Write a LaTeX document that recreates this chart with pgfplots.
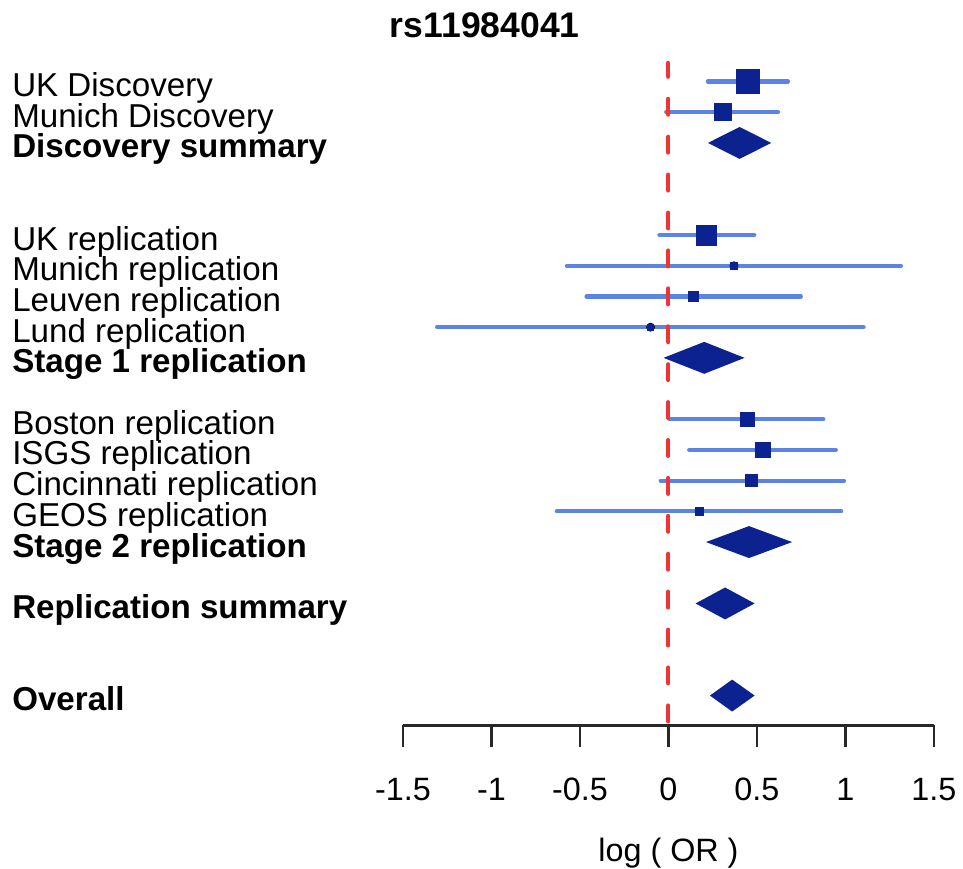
\documentclass[border=0pt]{standalone}
\usepackage{fontspec}
\setmainfont{Liberation Sans}
\usepackage{pgfplots}
\pgfplotsset{compat=1.18}
\usepackage{pgfplotstable}
\usetikzlibrary{calc}

\definecolor{ciblue}{RGB}{92,132,228}
\definecolor{sqblue}{RGB}{12,34,145}
\definecolor{nullred}{RGB}{238,52,52}
\definecolor{axgray}{RGB}{40,40,40}

\tikzset{
  lab/.style={anchor=base west, inner sep=0pt, font=\fontsize{16.6}{19}\selectfont},
  blab/.style={lab, font=\fontsize{16.6}{19}\selectfont\bfseries},
}

% row k, lower CI, estimate, upper CI, half side of the square (pt)
\pgfplotstableread{
k  lo     est    hi     s
0  0.223  0.449  0.675  6
1  -0.013 0.306  0.619  4.25
5  -0.051 0.214  0.485  5
6  -0.574 0.370  1.314  1.75
7  -0.463 0.139  0.748  2.5
8  -1.308 -0.101 1.103  1.5
11 0.006  0.445  0.875  3.5
12 0.117  0.534  0.946  3.75
13 -0.044 0.471  0.992  3
14 -0.631 0.174  0.976  2
}\studies

\begin{document}
\begin{tikzpicture}
\begin{axis}[
  scale only axis,
  width=266pt, height=332pt,
  xmin=-1.5, xmax=1.5,
  ymin=-20.97, ymax=0.608,
  axis x line*=bottom,
  axis y line=none,
  clip=false,
  xtick={-1.5,-1,-0.5,0,0.5,1,1.5},
  xticklabels={-1.5,-1,-0.5,0,0.5,1,1.5},
  tick align=outside,
  major tick length=11pt,
  x axis line style={line width=1.35pt, axgray},
  every tick/.style={line width=1.35pt, axgray},
  xticklabel style={font=\fontsize{16.2}{19}\selectfont, anchor=base, yshift=-26.5pt},
]
\coordinate (o) at (rel axis cs:0,0);

% confidence intervals
\addplot[only marks, mark=none,
  error bars/.cd, x dir=both, x explicit, error mark=none,
  error bar style={line width=2.1pt, ciblue, line cap=round}]
  table[x=est, y expr=-\thisrow{k},
        x error plus expr=\thisrow{hi}-\thisrow{est},
        x error minus expr=\thisrow{est}-\thisrow{lo}] {\studies};

% null line
\addplot[nullred, line width=2pt, line cap=round,
  dash pattern=on 8pt off 11pt, dash phase=1pt]
  coordinates {(0,0.608) (0,-20.97)};

% study estimates
\addplot[only marks, mark=square*, sqblue,
  mark options={draw=none, fill=sqblue},
  point meta=\thisrow{s},
  visualization depends on={\thisrow{s} \as \perpointsize},
  scatter, scatter/use mapped color={draw=none, fill=sqblue},
  scatter/@pre marker code/.append style={/tikz/mark size=\perpointsize}]
  table[x=est, y expr=-\thisrow{k}] {\studies};

% summary diamonds
\addplot[fill=sqblue, draw=none] coordinates {(0.223,-2) (0.402,-1.48) (0.581,-2) (0.402,-2.52)};
\addplot[fill=sqblue, draw=none] coordinates {(-0.028,-9) (0.202,-8.48) (0.430,-9) (0.202,-9.52)};
\addplot[fill=sqblue, draw=none] coordinates {(0.212,-15) (0.455,-14.48) (0.699,-15) (0.455,-15.52)};
\addplot[fill=sqblue, draw=none] coordinates {(0.153,-17) (0.320,-16.48) (0.487,-17) (0.320,-17.52)};
\addplot[fill=sqblue, draw=none] coordinates {(0.234,-20) (0.360,-19.48) (0.487,-20) (0.360,-20.52)};

% row labels
\node[lab]  at (axis cs:-3.711,-0.4875)  {UK Discovery};
\node[lab]  at (axis cs:-3.711,-1.4875)  {Munich Discovery};
\node[blab] at (axis cs:-3.711,-2.4875)  {Discovery summary};
\node[lab]  at (axis cs:-3.711,-5.4875)  {UK replication};
\node[lab]  at (axis cs:-3.711,-6.4875)  {Munich replication};
\node[lab]  at (axis cs:-3.711,-7.4875)  {Leuven replication};
\node[lab]  at (axis cs:-3.711,-8.4875)  {Lund replication};
\node[blab] at (axis cs:-3.711,-9.4875)  {Stage 1 replication};
\node[lab]  at (axis cs:-3.711,-11.4875) {Boston replication};
\node[lab]  at (axis cs:-3.711,-12.4875) {ISGS replication};
\node[lab]  at (axis cs:-3.711,-13.4875) {Cincinnati replication};
\node[lab]  at (axis cs:-3.711,-14.4875) {GEOS replication};
\node[blab] at (axis cs:-3.711,-15.4875) {Stage 2 replication};
\node[blab] at (axis cs:-3.711,-17.4875) {Replication summary};
\node[blab] at (axis cs:-3.711,-20.4875) {Overall};

% title and axis label
\node[anchor=base, inner sep=0pt, font=\fontsize{17.8}{20}\selectfont\bfseries]
  at (axis cs:-1.038,1.42) {rs11984041};
\node[anchor=base, inner sep=0pt, font=\fontsize{16.2}{19}\selectfont]
  at (axis cs:0,-25.4) {log ( OR )};
\end{axis}
\useasboundingbox ($(o)+(-202pt,-70pt)$) rectangle ++(481.5pt,433.5pt);
\end{tikzpicture}
\end{document}
